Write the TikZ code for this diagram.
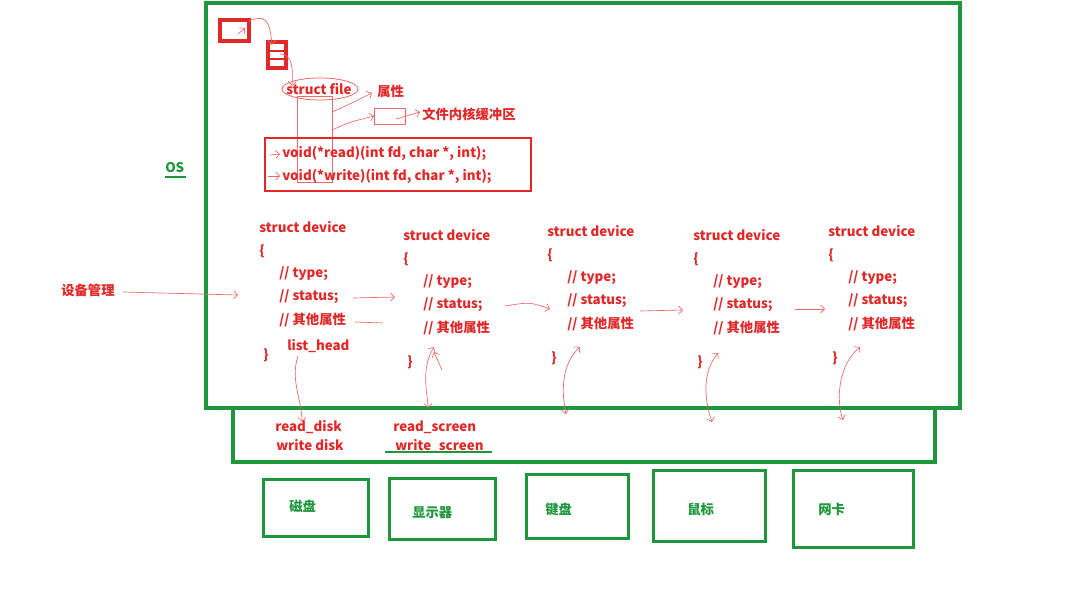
\documentclass[tikz,border=0pt]{standalone}
\usepackage{fontspec}
\setmainfont{Noto Sans CJK SC}
\usetikzlibrary{arrows.meta}
\definecolor{rd}{RGB}{225,40,40}
\definecolor{gr}{RGB}{30,150,60}
\begin{document}
\begin{tikzpicture}[x=0.75pt,y=-0.75pt,
  gbox/.style={draw=gr,line width=2.6pt},
  rt/.style={text=rd,font=\bfseries\fontsize{10}{12}\selectfont,inner sep=0pt,anchor=west},
  thin/.style={draw=rd!70,line width=0.5pt,-{Straight Barb[length=3pt]}},
  dbl/.style={draw=rd!70,line width=0.5pt,{Straight Barb[length=3pt]}-{Straight Barb[length=3pt]}}]
\useasboundingbox (0,0) rectangle (1089,606);
\fill[white] (0,0) rectangle (1089,606);
% green boxes
\draw[gbox] (206,3) rectangle (960,408);
\draw[gbox] (233,408) rectangle (935,462);
\node[gbox,minimum width=105*0.75pt,minimum height=57*0.75pt,anchor=north west] (disk) at (262,478) {};
\node[gbox,minimum width=106*0.75pt,minimum height=61*0.75pt,anchor=north west] (scr) at (388,477) {};
\node[gbox,minimum width=102*0.75pt,minimum height=64*0.75pt,anchor=north west] (kb) at (525,473) {};
\node[gbox,minimum width=112*0.75pt,minimum height=71*0.75pt,anchor=north west] (ms) at (652,469) {};
\node[gbox,minimum width=120*0.75pt,minimum height=77*0.75pt,anchor=north west] (nic) at (792,469) {};
\node[rt,text=gr] at (289,506) {磁盘};
\node[rt,text=gr] at (412,513) {显示器};
\node[rt,text=gr] at (545,509) {键盘};
\node[rt,text=gr] at (687,509) {鼠标};
\node[rt,text=gr] at (818,509) {网卡};
\node[rt,text=gr] (os) at (165,168) {OS};
\draw[gr,line width=0.8pt] (165,177) -- (186,177);
% device management
\node[rt] (dm) at (61,290) {设备管理};
\coordinate (dmend) at (238,295);
\draw[thin] (dm.east) ++(8,2) .. controls (180,293) .. (dmend);
% red file table
\draw[rd,line width=2.6pt] (220,20) rectangle (249,41);
\draw[rd,line width=2.6pt] (268,42) rectangle (286,68);
\draw[rd,line width=1.8pt] (268,51) -- (286,51) (268,59) -- (286,59);
\draw[thin] (238,34) -- (245,28);
\draw[thin] (249,21) .. controls (265,14) and (270,20) .. (272,45);
\draw[thin] (280,54) .. controls (293,54) and (293,70) .. (292,86);
\node[rt] (sf) at (286,89) {struct file};
\draw[rd!70,line width=0.6pt] (320,89) ellipse (38 and 11);
\node[rt] (attr) at (377,91) {属性};
\node[draw=rd!70,line width=0.6pt,minimum width=31*0.75pt,minimum height=16*0.75pt,inner sep=0pt] (buf) at (390,116) {};
\node[rt] (bufl) at (422,114) {文件内核缓冲区};
\draw[rd!70,line width=0.6pt] (297,96) rectangle (332,182);
\draw[thin] (332,112) .. controls (350,104) .. (372,93);
\draw[thin] (332,130) .. controls (350,122) .. (buf.west);
\draw[thin] (396,119) -- (420,112);
\draw[rd,line width=1.5pt] (265,138) rectangle (531,191);
\node[rt] (rd1) at (282,153) {void(*read)(int fd, char *, int);};
\node[rt] (wr1) at (282,176) {void(*write)(int fd, char *, int);};
\draw[thin] (270,155) -- (280,154);
\draw[thin] (268,176) -- (280,176);
% struct devices
\newcommand{\dev}[4]{%
 \node[rt] (#1h) at (#2,#3) {struct device};
 \node[rt] at (#2,#3+24) {\{};
 \node[rt] (#1a) at (#2+20,#3+47) {// type;};
 \node[rt] (#1b) at (#2+20,#3+70) {// status;};
 \node[rt] (#1c) at (#2+20,#3+93) {// 其他属性};
 \node[rt] (#1e) at (#2+4,#3+#4) {\}};}
\dev{d1}{259}{227}{128}
\node[rt] (lh) at (287,346) {list\_head};
\dev{d2}{403}{235}{127}
\dev{d3}{547}{231}{127}
\dev{d4}{693}{235}{127}
\dev{d5}{828}{231}{127}
\draw[thin] (353,298) -- (395,297);
\draw[rd!70,line width=0.5pt] (355,322) -- (383,323);
\draw[thin] (505,306) .. controls (530,302) .. (550,309);
\draw[thin] (640,311) -- (683,310);
\draw[thin] (795,309) -- (825,309);
% vertical links
\draw[thin] (298,356) .. controls (290,380) and (302,400) .. (302,422);
\draw[dbl] (434,347) .. controls (420,370) and (428,395) .. (428,408);
\draw[thin] (442,370) -- (434,352);
\draw[dbl] (580,347) .. controls (560,365) and (562,395) .. (566,414);
\draw[dbl] (718,353) .. controls (700,375) and (706,405) .. (712,422);
\draw[dbl] (860,347) .. controls (838,365) and (836,400) .. (843,420);
% drivers
\node[rt] (r1) at (275,427) {read\_disk};
\node[rt] (w1) at (276,445) {write disk};
\node[rt] (r2) at (393,427) {read\_screen};
\node[rt] (w2) at (395,446) {write\_screen};
\draw[gr,line width=1pt] (385,452) -- (492,452);
\end{tikzpicture}
\end{document}
